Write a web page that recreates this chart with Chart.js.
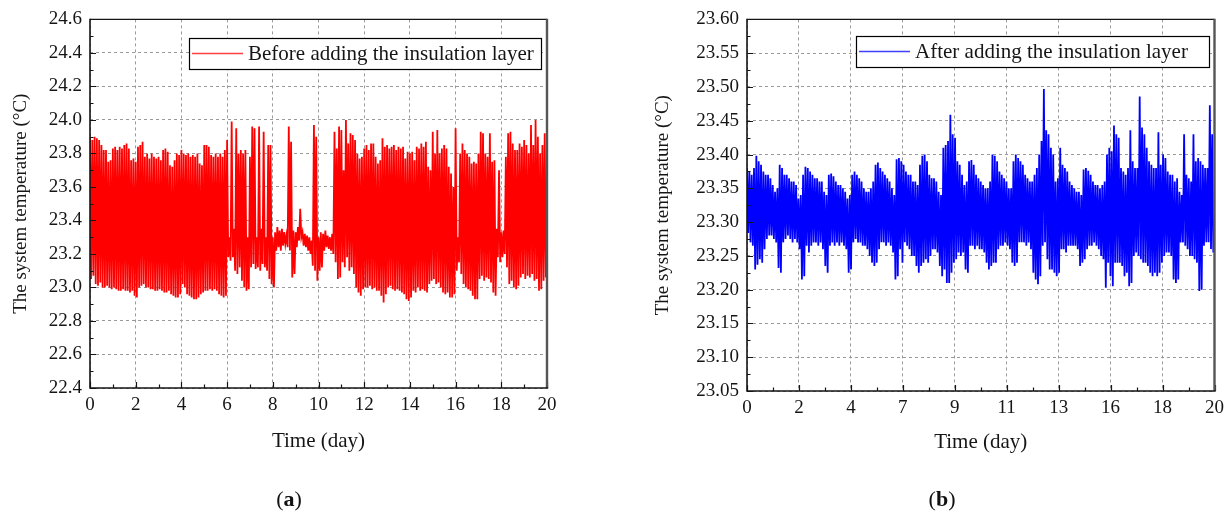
<!DOCTYPE html>
<html>
<head>
<meta charset="utf-8">
<script src="https://cdn.jsdelivr.net/npm/chart.js@4.4.1/dist/chart.umd.min.js"></script>
<style>
  html, body { margin: 0; padding: 0; background: #fff; }
  #page { position: relative; width: 1230px; height: 519px; overflow: hidden; }
  .panel { position: absolute; top: 0; width: 615px; height: 519px; }
  .caption { position: absolute; top: 486px; width: 80px; margin-left: -40px; text-align: center;
             font-family: 'Liberation Serif', 'DejaVu Serif', serif; font-size: 22px; color: #111; }
</style>
</head>
<body>
<div id="page">
  <div class="panel" style="left:0"><canvas id="chartBefore" width="615" height="519"></canvas></div>
  <div class="panel" style="left:615px"><canvas id="chartAfter" width="615" height="519"></canvas></div>
  <div class="caption" style="left:289px">(<b>a</b>)</div>
  <div class="caption" style="left:942px">(<b>b</b>)</div>
</div>
<script>
// Sampling step of the envelope tables below (days). Each bin holds the
// highest and the lowest reading seen in that slice of time.
const timeStep = 0.1;

// --- Before adding the insulation layer ---
const beforeHigh = [
  23.90, 23.88, 23.90, 23.89, 23.88, 23.85, 23.82, 23.82, 23.75, 23.76,
  23.83, 23.84, 23.82, 23.84, 23.83, 23.85, 23.86, 23.83, 23.76, 23.77,
  23.75, 23.84, 23.85, 23.87, 23.78, 23.80, 23.77, 23.80, 23.78, 23.77,
  23.78, 23.76, 23.82, 23.83, 23.81, 23.73, 23.72, 23.76, 23.80, 23.79,
  23.82, 23.80, 23.79, 23.80, 23.78, 23.79, 23.78, 23.80, 23.74, 23.73,
  23.85, 23.85, 23.84, 23.79, 23.78, 23.80, 23.78, 23.80, 23.78, 23.82,
  23.88, 23.30, 23.99, 23.35, 23.95, 23.80, 23.82, 23.80, 23.82, 23.30,
  23.78, 23.96, 23.95, 23.30, 23.96, 23.35, 23.93, 23.30, 23.85, 23.85,
  23.30, 23.33, 23.36, 23.34, 23.35, 23.33, 23.31, 23.96, 23.87, 23.34,
  23.33, 23.36, 23.47, 23.33, 23.32, 23.31, 23.30, 23.28, 23.97, 23.90,
  23.30, 23.33, 23.32, 23.34, 23.31, 23.30, 23.32, 23.93, 23.83, 23.96,
  23.94, 23.70, 24.00, 23.86, 23.92, 23.91, 23.88, 23.80, 23.77, 23.78,
  23.83, 23.85, 23.82, 23.86, 23.86, 23.78, 23.74, 23.76, 23.89, 23.84,
  23.85, 23.83, 23.84, 23.85, 23.82, 23.84, 23.83, 23.84, 23.77, 23.81,
  23.80, 23.81, 23.76, 23.84, 23.83, 23.86, 23.84, 23.87, 23.72, 23.70,
  23.93, 23.80, 23.94, 23.80, 23.83, 23.85, 23.83, 23.72, 23.68, 23.60,
  23.95, 23.30, 23.80, 23.86, 23.82, 23.80, 23.78, 23.74, 23.75, 23.74,
  23.80, 23.93, 23.92, 23.80, 23.78, 23.92, 23.75, 23.76, 23.35, 23.70,
  23.33, 23.34, 23.78, 23.92, 23.93, 23.86, 23.82, 23.82, 23.86, 23.84,
  23.88, 23.85, 23.80, 23.97, 23.85, 24.00, 23.90, 23.80, 23.85, 23.92
];
const beforeLow = [
  23.05, 23.07, 23.02, 23.01, 23.03, 23.00, 23.00, 23.01, 23.00, 22.99,
  23.00, 22.99, 22.98, 22.98, 22.99, 22.98, 22.98, 22.97, 22.98, 22.95,
  22.94, 23.00, 23.01, 23.02, 23.00, 23.00, 22.99, 22.99, 22.98, 22.98,
  22.99, 22.98, 22.97, 22.97, 22.98, 22.96, 22.95, 22.94, 22.94, 22.96,
  23.02, 23.00, 22.96, 22.95, 22.94, 22.93, 22.93, 22.94, 22.96, 22.97,
  22.98, 22.98, 22.99, 22.98, 22.99, 22.98, 22.96, 22.95, 22.94, 22.95,
  23.18, 23.16, 23.18, 23.10, 23.08, 23.12, 23.04, 23.00, 22.98, 22.99,
  23.12, 23.14, 23.11, 23.12, 23.10, 23.14, 23.12, 23.10, 23.05, 23.02,
  23.00, 23.22, 23.24, 23.22, 23.25, 23.26, 23.24, 23.22, 23.06, 23.08,
  23.24, 23.28, 23.30, 23.25, 23.24, 23.22, 23.20, 23.13, 23.10, 23.04,
  23.10, 23.12, 23.22, 23.24, 23.23, 23.22, 23.20, 23.15, 23.05, 23.06,
  23.15, 23.12, 23.18, 23.10, 23.12, 23.08, 23.00, 22.97, 22.95, 22.99,
  23.00, 23.00, 23.01, 22.99, 23.00, 22.98, 22.98, 22.95, 22.91, 22.96,
  23.00, 23.01, 22.99, 22.98, 22.99, 22.98, 22.97, 22.96, 22.93, 22.92,
  22.94, 22.98, 22.97, 23.00, 22.98, 22.99, 22.98, 22.97, 23.02, 23.04,
  23.05, 23.02, 23.03, 23.00, 22.97, 22.96, 22.97, 22.94, 22.94, 22.96,
  23.10, 23.15, 23.08, 23.02, 23.00, 22.99, 22.98, 22.95, 22.93, 22.93,
  23.05, 23.07, 23.04, 23.06, 23.05, 23.03, 22.97, 22.95, 23.18, 23.15,
  23.18, 23.20, 23.12, 23.02, 23.04, 23.00, 22.99, 23.01, 23.06, 23.08,
  23.05, 23.07, 23.06, 23.08, 23.04, 23.05, 22.98, 22.99, 23.04, 23.06
];

// --- After adding the insulation layer ---
const afterHigh = [
  23.380, 23.375, 23.370, 23.380, 23.398, 23.390, 23.385, 23.375, 23.370, 23.370,
  23.365, 23.355, 23.345, 23.350, 23.385, 23.380, 23.370, 23.370, 23.365, 23.360,
  23.360, 23.355, 23.335, 23.340, 23.370, 23.382, 23.380, 23.375, 23.370, 23.365,
  23.365, 23.360, 23.360, 23.345, 23.340, 23.370, 23.372, 23.368, 23.360, 23.355,
  23.355, 23.350, 23.345, 23.335, 23.340, 23.370, 23.375, 23.370, 23.365, 23.360,
  23.350, 23.345, 23.345, 23.350, 23.360, 23.385, 23.388, 23.380, 23.375, 23.370,
  23.365, 23.360, 23.350, 23.340, 23.393, 23.395, 23.390, 23.385, 23.375, 23.370,
  23.370, 23.360, 23.360, 23.355, 23.385, 23.398, 23.400, 23.390, 23.370, 23.365,
  23.365, 23.360, 23.345, 23.340, 23.410, 23.414, 23.420, 23.459, 23.430, 23.425,
  23.390, 23.385, 23.370, 23.355, 23.360, 23.390, 23.392, 23.385, 23.370, 23.365,
  23.360, 23.355, 23.350, 23.350, 23.360, 23.400, 23.398, 23.390, 23.375, 23.370,
  23.365, 23.360, 23.350, 23.350, 23.390, 23.400, 23.395, 23.390, 23.385, 23.370,
  23.365, 23.360, 23.360, 23.370, 23.380, 23.400, 23.420, 23.497, 23.436, 23.430,
  23.410, 23.400, 23.360, 23.365, 23.410, 23.385, 23.380, 23.375, 23.360, 23.355,
  23.350, 23.345, 23.345, 23.340, 23.378, 23.380, 23.376, 23.370, 23.360, 23.355,
  23.355, 23.350, 23.355, 23.360, 23.400, 23.410, 23.405, 23.443, 23.430, 23.425,
  23.380, 23.375, 23.370, 23.380, 23.436, 23.390, 23.380, 23.380, 23.486, 23.440,
  23.430, 23.410, 23.390, 23.385, 23.380, 23.380, 23.433, 23.385, 23.400, 23.395,
  23.375, 23.370, 23.370, 23.360, 23.365, 23.345, 23.340, 23.430, 23.370, 23.365,
  23.360, 23.430, 23.390, 23.395, 23.390, 23.385, 23.380, 23.380, 23.473, 23.430
];
const afterLow = [
  23.284, 23.270, 23.265, 23.230, 23.237, 23.245, 23.240, 23.260, 23.275, 23.280,
  23.280, 23.275, 23.270, 23.232, 23.225, 23.270, 23.275, 23.280, 23.275, 23.270,
  23.275, 23.270, 23.260, 23.215, 23.220, 23.265, 23.255, 23.265, 23.270, 23.270,
  23.265, 23.270, 23.260, 23.235, 23.225, 23.265, 23.270, 23.265, 23.270, 23.265,
  23.270, 23.265, 23.260, 23.225, 23.230, 23.270, 23.275, 23.270, 23.270, 23.265,
  23.265, 23.260, 23.250, 23.240, 23.235, 23.240, 23.260, 23.270, 23.270, 23.265,
  23.270, 23.265, 23.255, 23.215, 23.220, 23.260, 23.240, 23.270, 23.265, 23.260,
  23.250, 23.250, 23.235, 23.225, 23.235, 23.240, 23.245, 23.240, 23.250, 23.260,
  23.260, 23.255, 23.235, 23.220, 23.230, 23.210, 23.210, 23.225, 23.240, 23.245,
  23.255, 23.250, 23.255, 23.230, 23.225, 23.265, 23.265, 23.260, 23.265, 23.260,
  23.260, 23.255, 23.240, 23.230, 23.235, 23.240, 23.240, 23.260, 23.265, 23.265,
  23.270, 23.265, 23.260, 23.240, 23.235, 23.240, 23.270, 23.270, 23.270, 23.265,
  23.270, 23.260, 23.225, 23.215, 23.208, 23.220, 23.265, 23.270, 23.245, 23.230,
  23.230, 23.225, 23.220, 23.225, 23.260, 23.260, 23.255, 23.265, 23.265, 23.265,
  23.265, 23.260, 23.235, 23.240, 23.245, 23.260, 23.265, 23.265, 23.270, 23.265,
  23.260, 23.250, 23.245, 23.203, 23.240, 23.220, 23.205, 23.240, 23.240, 23.240,
  23.235, 23.220, 23.225, 23.205, 23.210, 23.250, 23.255, 23.250, 23.245, 23.240,
  23.240, 23.235, 23.225, 23.220, 23.225, 23.220, 23.225, 23.240, 23.250, 23.255,
  23.255, 23.250, 23.215, 23.210, 23.215, 23.270, 23.270, 23.265, 23.260, 23.250,
  23.250, 23.245, 23.240, 23.198, 23.200, 23.265, 23.270, 23.270, 23.260, 23.255
];

// Axis ticks
const beforeXTicks = [0, 2, 4, 6, 8, 10, 12, 14, 16, 18, 20];
const beforeYTicks = [22.4, 22.6, 22.8, 23.0, 23.2, 23.4, 23.6, 23.8, 24.0, 24.2, 24.4, 24.6];
const afterXTicks = [0, 20 / 9, 40 / 9, 60 / 9, 80 / 9, 100 / 9, 120 / 9, 140 / 9, 160 / 9, 20];
const afterXLabels = ['0', '2', '4', '7', '9', '11', '13', '16', '18', '20'];
const afterYTicks = [23.05, 23.10, 23.15, 23.20, 23.25, 23.30, 23.35, 23.40, 23.45, 23.50, 23.55, 23.60];

const SERIF = "'Liberation Serif', 'DejaVu Serif', serif";
const INK = '#151515';

// high/low per bin -> one continuous trace
function zigzag(high, low) {
    const pts = [];
    high.forEach((h, i) => {
        pts.push({ x: i * timeStep, y: h });
        pts.push({ x: i * timeStep + timeStep / 2, y: low[i] });
    });
    return pts;
}

function midpoints(list) {
    const out = [];
    for (let i = 0; i < list.length - 1; i++) out.push((list[i] + list[i + 1]) / 2);
    return out;
}

// Frame, inward tick marks and the boxed legend inside the plot
const framePlugin = {
    id: 'frame',
    afterDraw(chart, args, opts) {
        const { ctx, chartArea: a, scales: { x, y } } = chart;
        ctx.save();

        ctx.strokeStyle = INK;
        ctx.lineWidth = 1.2;
        ctx.beginPath();
        opts.xMajor.forEach(v => {
            const px = Math.round(x.getPixelForValue(v)) + 0.5;
            ctx.moveTo(px, a.bottom); ctx.lineTo(px, a.bottom - 6);
        });
        midpoints(opts.xMajor).forEach(v => {
            const px = Math.round(x.getPixelForValue(v)) + 0.5;
            ctx.moveTo(px, a.bottom); ctx.lineTo(px, a.bottom - 3.5);
        });
        opts.yMajor.forEach(v => {
            const py = Math.round(y.getPixelForValue(v)) + 0.5;
            ctx.moveTo(a.left, py); ctx.lineTo(a.left + 6, py);
        });
        midpoints(opts.yMajor).forEach(v => {
            const py = Math.round(y.getPixelForValue(v)) + 0.5;
            ctx.moveTo(a.left, py); ctx.lineTo(a.left + 3.5, py);
        });
        ctx.stroke();

        // top edge
        ctx.lineWidth = 1.2;
        ctx.beginPath();
        ctx.moveTo(a.left, a.top); ctx.lineTo(a.right, a.top);
        ctx.stroke();
        // right edge (grey, heavier)
        ctx.strokeStyle = '#555';
        ctx.lineWidth = 2.4;
        ctx.beginPath();
        ctx.moveTo(a.right, a.top - 0.6); ctx.lineTo(a.right, a.bottom);
        ctx.stroke();
        // axes
        ctx.strokeStyle = INK;
        ctx.lineWidth = 1.6;
        ctx.beginPath();
        ctx.moveTo(a.left, a.top - 0.6); ctx.lineTo(a.left, a.bottom);
        ctx.lineTo(a.right + 1.2, a.bottom);
        ctx.stroke();

        // legend
        const lg = opts.legend;
        const ds = chart.data.datasets[0];
        ctx.fillStyle = '#fff';
        ctx.fillRect(lg.x1, lg.y1, lg.x2 - lg.x1, lg.y2 - lg.y1);
        ctx.strokeStyle = '#000';
        ctx.lineWidth = 1.2;
        ctx.strokeRect(lg.x1 + 0.5, lg.y1 + 0.5, lg.x2 - lg.x1, lg.y2 - lg.y1);
        ctx.strokeStyle = ds.borderColor;
        ctx.globalAlpha = 0.75;
        ctx.lineWidth = 1.3;
        ctx.beginPath();
        ctx.moveTo(lg.x1 + 3, lg.lineY); ctx.lineTo(lg.x1 + 54, lg.lineY);
        ctx.stroke();
        ctx.globalAlpha = 1;
        ctx.fillStyle = INK;
        ctx.font = '21px ' + SERIF;
        ctx.textBaseline = 'middle';
        ctx.textAlign = 'left';
        ctx.fillText(ds.label, lg.x1 + 59, (lg.y1 + lg.y2) / 2 + 1);

        ctx.restore();
    }
};

function makeChart(id, cfg) {
    const tickFont = { family: SERIF, size: 19 };
    return new Chart(document.getElementById(id), {
        type: 'line',
        data: {
            datasets: [{
                label: cfg.label,
                data: zigzag(cfg.high, cfg.low),
                borderColor: cfg.color,
                borderWidth: 1.8,
                pointRadius: 0,
                tension: 0,
                fill: false
            }]
        },
        options: {
            responsive: false,
            animation: false,
            devicePixelRatio: 1,
            events: [],
            layout: { padding: { left: 0, top: cfg.padTop, right: cfg.padRight, bottom: 0 } },
            plugins: {
                legend: { display: false },
                tooltip: { enabled: false },
                frame: { xMajor: cfg.xTicks, yMajor: cfg.yTicks, legend: cfg.legendBox }
            },
            scales: {
                x: {
                    type: 'linear',
                    min: 0,
                    max: 20,
                    afterBuildTicks: s => { s.ticks = cfg.xTicks.map(v => ({ value: v })); },
                    afterFit: s => { s.height = cfg.xHeight; },
                    ticks: {
                        autoSkip: false,
                        maxRotation: 0,
                        padding: 6,
                        color: INK,
                        font: tickFont,
                        callback: cfg.xLabel
                    },
                    grid: { color: '#9a9a9a', lineWidth: 1, drawTicks: false },
                    border: { display: false, dash: [3, 3] },
                    title: {
                        display: true,
                        text: 'Time (day)',
                        color: INK,
                        font: { family: SERIF, size: 21 },
                        padding: { top: 0, bottom: cfg.xTitlePad }
                    }
                },
                y: {
                    type: 'linear',
                    min: cfg.yTicks[0],
                    max: cfg.yTicks[cfg.yTicks.length - 1],
                    afterBuildTicks: s => { s.ticks = cfg.yTicks.map(v => ({ value: v })); },
                    afterFit: s => { s.width = cfg.yWidth; },
                    ticks: {
                        padding: 8,
                        color: INK,
                        font: tickFont,
                        callback: v => v.toFixed(cfg.yDigits)
                    },
                    grid: { color: '#9a9a9a', lineWidth: 1, drawTicks: false },
                    border: { display: false, dash: [3, 3] },
                    title: {
                        display: true,
                        text: 'The system temperature (°C)',
                        color: INK,
                        font: { family: SERIF, size: 19 },
                        padding: { top: cfg.yTitlePad, bottom: 0 }
                    }
                }
            }
        },
        plugins: [framePlugin]
    });
}

makeChart('chartBefore', {
    label: 'Before adding the insulation layer',
    color: '#ff0000',
    high: beforeHigh,
    low: beforeLow,
    xTicks: beforeXTicks,
    yTicks: beforeYTicks,
    xLabel: v => String(v),
    yDigits: 1,
    yWidth: 90,
    xHeight: 131,
    padTop: 18,
    padRight: 68,
    yTitlePad: 10,
    xTitlePad: 65,
    legendBox: { x1: 189, y1: 38, x2: 541, y2: 69, lineY: 53.5 }
});

makeChart('chartAfter', {
    label: 'After adding the insulation layer',
    color: '#0000ff',
    high: afterHigh,
    low: afterLow,
    xTicks: afterXTicks,
    yTicks: afterYTicks,
    xLabel: (v, i) => afterXLabels[i],
    yDigits: 2,
    yWidth: 132,
    xHeight: 128,
    padTop: 17,
    padRight: 15,
    yTitlePad: 37,
    xTitlePad: 64,
    legendBox: { x1: 241, y1: 36, x2: 594, y2: 67, lineY: 51.5 }
});
</script>
</body>
</html>
